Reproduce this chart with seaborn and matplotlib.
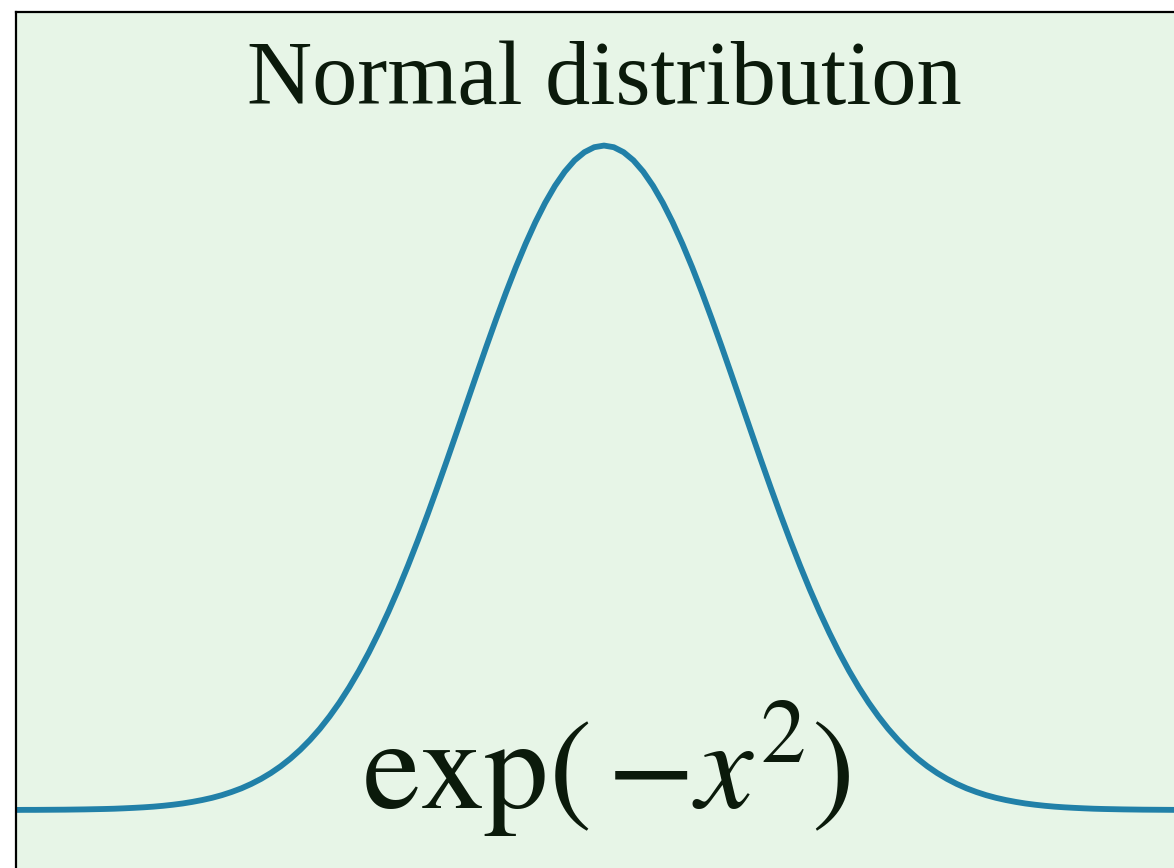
import matplotlib
matplotlib.use("Agg")
import matplotlib.pyplot as plt
import seaborn as sns

# curve values (x from -3 to 3, step 0.05)
x_vals = [-3.00, -2.95, -2.90, -2.85, -2.80, -2.75, -2.70, -2.65, -2.60, -2.55,
          -2.50, -2.45, -2.40, -2.35, -2.30, -2.25, -2.20, -2.15, -2.10, -2.05,
          -2.00, -1.95, -1.90, -1.85, -1.80, -1.75, -1.70, -1.65, -1.60, -1.55,
          -1.50, -1.45, -1.40, -1.35, -1.30, -1.25, -1.20, -1.15, -1.10, -1.05,
          -1.00, -0.95, -0.90, -0.85, -0.80, -0.75, -0.70, -0.65, -0.60, -0.55,
          -0.50, -0.45, -0.40, -0.35, -0.30, -0.25, -0.20, -0.15, -0.10, -0.05,
          0.00, 0.05, 0.10, 0.15, 0.20, 0.25, 0.30, 0.35, 0.40, 0.45,
          0.50, 0.55, 0.60, 0.65, 0.70, 0.75, 0.80, 0.85, 0.90, 0.95,
          1.00, 1.05, 1.10, 1.15, 1.20, 1.25, 1.30, 1.35, 1.40, 1.45,
          1.50, 1.55, 1.60, 1.65, 1.70, 1.75, 1.80, 1.85, 1.90, 1.95,
          2.00, 2.05, 2.10, 2.15, 2.20, 2.25, 2.30, 2.35, 2.40, 2.45,
          2.50, 2.55, 2.60, 2.65, 2.70, 2.75, 2.80, 2.85, 2.90, 2.95, 3.00]
left_half = [0.0001, 0.0002, 0.0002, 0.0003, 0.0004, 0.0005, 0.0007, 0.0009, 0.0012, 0.0015,
             0.0019, 0.0025, 0.0032, 0.0040, 0.0050, 0.0063, 0.0079, 0.0098, 0.0122, 0.0150,
             0.0183, 0.0223, 0.0271, 0.0326, 0.0392, 0.0468, 0.0556, 0.0657, 0.0773, 0.0905,
             0.1054, 0.1221, 0.1409, 0.1616, 0.1845, 0.2096, 0.2369, 0.2665, 0.2982, 0.3320,
             0.3679, 0.4056, 0.4449, 0.4856, 0.5273, 0.5698, 0.6126, 0.6554, 0.6977, 0.7390,
             0.7788, 0.8167, 0.8521, 0.8847, 0.9139, 0.9394, 0.9608, 0.9778, 0.9900, 0.9975]
y_vals = left_half + [1.0] + left_half[::-1]

title_text = "Normal distribution"
formula_text = r"$\exp(\,{-}x^2)$"

sns.set_theme(style="white")
plt.rcParams['font.family'] = ['Liberation Serif', 'DejaVu Serif']
plt.rcParams['mathtext.fontset'] = 'stix'

text_color = "#0b1a0b"
line_color = "#2180a8"

fig = plt.figure(figsize=(11.74, 8.68), dpi=100)
ax = fig.add_axes([16 / 1174, 0, 1176 / 1174, 856 / 868])
ax.set_facecolor("#e7f5e7")

sns.lineplot(x=x_vals, y=y_vals, ax=ax, color=line_color, linewidth=4.2)

ax.set_xlim(-3, 3)
ax.set_ylim(-0.0873, 1.201)
ax.set_xticks([])
ax.set_yticks([])
ax.set_xlabel("")
ax.set_ylabel("")
for side in ['bottom', 'right']:
    ax.spines[side].set_visible(False)
for side in ['left', 'top']:
    ax.spines[side].set_color("black")
    ax.spines[side].set_linewidth(1.6)

ax.text(0, 1.0625, title_text, ha='center', va='baseline',
        fontsize=65, color=text_color)
ax.text(0.01, 0.0015, formula_text, ha='center', va='baseline',
        fontsize=93, color=text_color)

fig.savefig("out.png", dpi=100)
